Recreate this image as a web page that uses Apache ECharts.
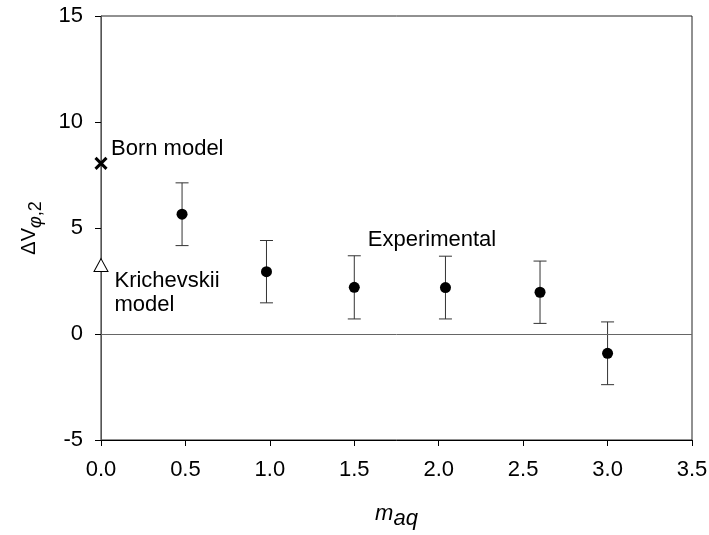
<!DOCTYPE html>
<html>
<head>
<meta charset="utf-8">
<script src="https://cdn.jsdelivr.net/npm/echarts@6/dist/echarts.min.js"></script>
<style>html,body{margin:0;padding:0;background:#fff;}#chart{width:709px;height:535px;}</style>
</head>
<body>
<div id="chart"></div>
<script>
// Experimental data
const xVals = [0.48, 0.98, 1.50, 2.04, 2.60, 3.00];
const yVals = [5.65, 2.94, 2.20, 2.19, 1.97, -0.91];
const errVals = [1.48, 1.47, 1.49, 1.48, 1.47, 1.48];
// Model points
const bornModel = [0, 8.05];
const krichevskiiModel = [0, 3.25];
// Annotations
const bornLabel = 'Born model';
const krichevskiiLabel = 'Krichevskii\nmodel';
const experimentalLabel = 'Experimental';
const experimentalLabelPos = [1.58, 4.45];
// Axis ticks
const xTicks = [0, 0.5, 1.0, 1.5, 2.0, 2.5, 3.0, 3.5];
const yTicks = [-5, 0, 5, 10, 15];

const FONT = 'Liberation Sans, Arial, sans-serif';
const FS = 22;

const expData = xVals.map((x, i) => [x, yVals[i], errVals[i]]);

const chart = echarts.init(document.getElementById('chart'));
chart.setOption({
  animation: false,
  backgroundColor: '#fff',
  textStyle: { fontFamily: FONT },
  grid: { left: 101, right: 17, top: 16, bottom: 95, containLabel: false, outerBoundsMode: 'none', show: true, borderColor: '#222', borderWidth: 1 },
  xAxis: {
    type: 'value', min: xTicks[0], max: xTicks[xTicks.length - 1], interval: 0.5,
    name: '{m|m}{s|aq}', nameLocation: 'middle', nameGap: 63,
    nameTextStyle: {
      rich: {
        m: { fontFamily: FONT, fontSize: 22, fontStyle: 'italic', color: '#000', verticalAlign: 'top', lineHeight: 22 },
        s: { fontFamily: FONT, fontSize: 22, fontStyle: 'italic', color: '#000', verticalAlign: 'bottom', lineHeight: 27 }
      }
    },
    axisLine: { onZero: false, lineStyle: { color: '#000', width: 1 } },
    axisTick: { show: true, inside: false, length: 6, lineStyle: { color: '#000' } },
    axisLabel: { fontSize: FS, color: '#000', fontFamily: FONT, margin: 19, formatter: v => v.toFixed(1) },
    splitLine: { show: false }
  },
  yAxis: {
    type: 'value', min: yTicks[0], max: yTicks[yTicks.length - 1], interval: 5,
    name: '{a|ΔV}{si|φ}{s|,2}', nameLocation: 'middle', nameGap: 56, nameRotate: 90,
    nameTextStyle: {
      rich: {
        a: { fontFamily: FONT, fontSize: 20, color: '#000', verticalAlign: 'top', lineHeight: 20 },
        si: { fontFamily: FONT, fontSize: 18, fontStyle: 'italic', color: '#000', verticalAlign: 'bottom', lineHeight: 26 },
        s: { fontFamily: FONT, fontSize: 18, color: '#000', verticalAlign: 'bottom', lineHeight: 26 }
      }
    },
    axisLine: { onZero: false, lineStyle: { color: '#555', width: 1 } },
    axisTick: { show: true, inside: false, length: 6, lineStyle: { color: '#000' } },
    axisLabel: { fontSize: FS, color: '#000', fontFamily: FONT, margin: 18 },
    splitLine: { show: false }
  },
  series: [
    {
      type: 'custom',
      name: 'errors',
      data: expData,
      renderItem: function (params, api) {
        const x = api.value(0), y = api.value(1), e = api.value(2);
        const top = api.coord([x, y + e]);
        const bot = api.coord([x, y - e]);
        const hw = 6.5;
        const st = { stroke: '#333', lineWidth: 1 };
        return {
          type: 'group',
          children: [
            { type: 'line', shape: { x1: top[0], y1: top[1], x2: bot[0], y2: bot[1] }, style: st },
            { type: 'line', shape: { x1: top[0] - hw, y1: top[1], x2: top[0] + hw, y2: top[1] }, style: st },
            { type: 'line', shape: { x1: bot[0] - hw, y1: bot[1], x2: bot[0] + hw, y2: bot[1] }, style: st }
          ]
        };
      },
      markLine: {
        silent: true, symbol: 'none', label: { show: false },
        lineStyle: { color: '#666', width: 1, type: 'solid' },
        data: [{ yAxis: 0 }]
      },
      z: 2
    },
    {
      type: 'scatter',
      name: 'Experimental',
      data: xVals.map((x, i) => [x, yVals[i]]),
      symbol: 'circle', symbolSize: 11,
      itemStyle: { color: '#000', opacity: 1 },
      z: 3
    },
    {
      type: 'scatter',
      name: 'Experimental label',
      data: [experimentalLabelPos],
      symbolSize: 0,
      itemStyle: { opacity: 1 },
      label: { show: true, position: 'right', distance: 0, formatter: experimentalLabel, fontSize: FS, color: '#000', opacity: 1, fontFamily: FONT },
      silent: true
    },
    {
      type: 'custom',
      name: 'Born model',
      data: [bornModel],
      renderItem: function (params, api) {
        const p = api.coord([api.value(0), api.value(1)]);
        const h = 5.5;
        const st = { stroke: '#000', lineWidth: 3 };
        return {
          type: 'group',
          children: [
            { type: 'line', shape: { x1: p[0] - h, y1: p[1] - h, x2: p[0] + h, y2: p[1] + h }, style: st },
            { type: 'line', shape: { x1: p[0] - h, y1: p[1] + h, x2: p[0] + h, y2: p[1] - h }, style: st },
            { type: 'text', x: p[0] + 10, y: p[1] - 14, style: { text: bornLabel, fontSize: FS, fontFamily: FONT, fill: '#000', align: 'left', verticalAlign: 'middle' } }
          ]
        };
      },
      z: 4
    },
    {
      type: 'scatter',
      name: 'Krichevskii model',
      data: [krichevskiiModel],
      symbol: 'triangle', symbolSize: [14, 13],
      itemStyle: { color: '#fff', borderColor: '#000', borderWidth: 1, opacity: 1 },
      label: { show: true, position: [21, 11], align: 'left', verticalAlign: 'top', formatter: krichevskiiLabel, fontSize: FS, lineHeight: 24, color: '#000', opacity: 1, fontFamily: FONT },
      z: 4
    }
  ]
});
</script>
</body>
</html>
